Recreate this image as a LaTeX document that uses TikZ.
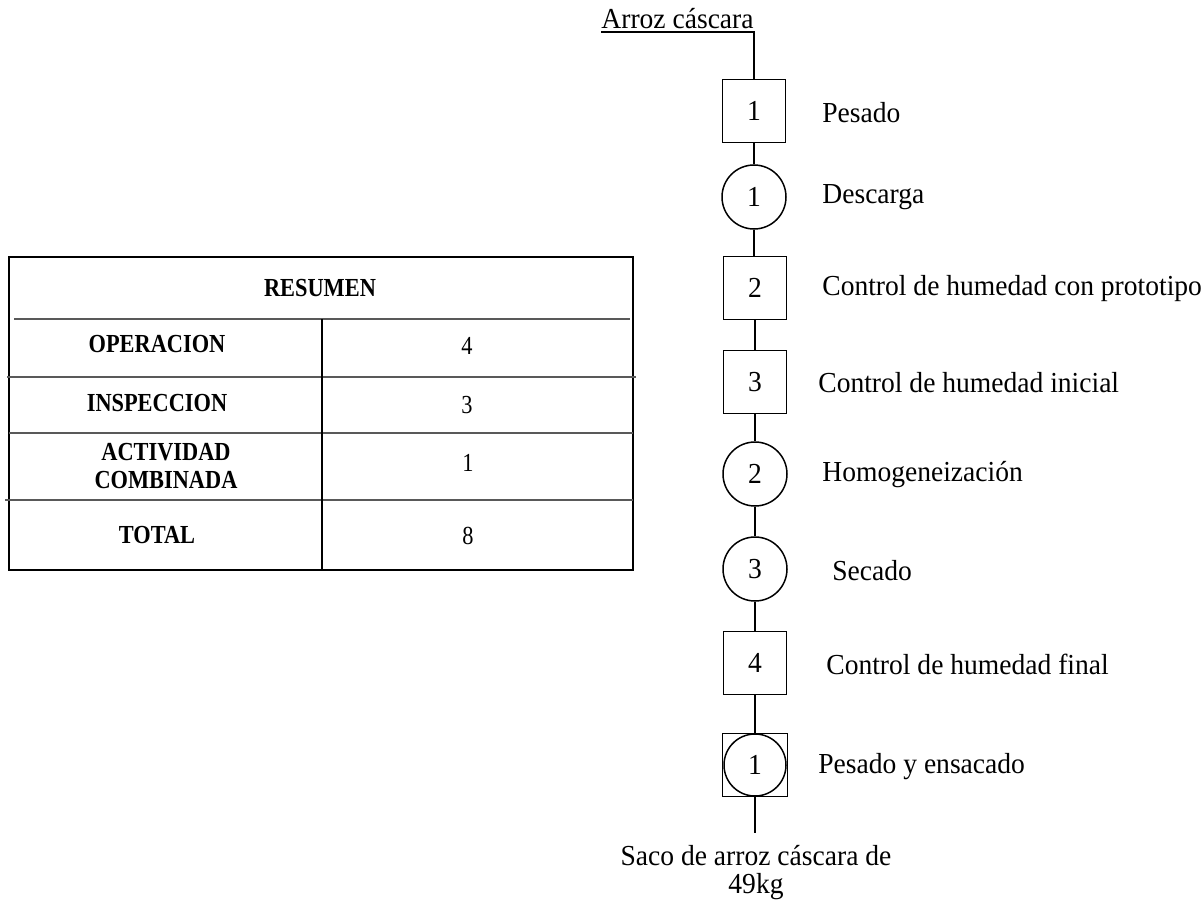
\documentclass[tikz,border=0pt]{standalone}
\usepackage{fontspec}
\setmainfont{Liberation Serif}
\newfontfamily\flowfont[FakeStretch=0.95]{Liberation Serif}
\newfontfamily\tabfont[FakeStretch=0.86]{Liberation Serif}
\begin{document}
\begin{tikzpicture}[x=0.5pt,y=-0.5pt,
  every node/.style={inner sep=0pt},
  lbl/.style={font=\flowfont\fontsize{14.5}{14}\selectfont, anchor=west},
  num/.style={font=\flowfont\fontsize{14.5}{14}\selectfont},
  opbox/.style={draw, line width=0.75pt, minimum width=31.5pt, minimum height=31.5pt, num},
  opcirc/.style={draw, circle, line width=0.75pt, minimum size=32pt, num},
  combbox/.style={draw, line width=0.75pt, minimum width=32.5pt, minimum height=31.5pt},
  flow/.style={line width=0.75pt},
  tabtxt/.style={font=\tabfont\fontsize{13}{14}\selectfont\bfseries, align=center},
  tabnum/.style={font=\tabfont\fontsize{13}{14}\selectfont},
  sep/.style={line width=1pt, black!65}]
\useasboundingbox (0,0) rectangle (1204,904);

% ---- flow ----
\node[font=\flowfont\fontsize{14.5}{14}\selectfont, inner xsep=0pt, inner ysep=1.5pt, anchor=south east] (start) at (754,32) {Arroz cáscara};
\node[opbox] (b1) at (754,111) {1};
\node[opcirc] (c1) at (754,197) {1};
\node[opbox] (b2) at (755,288) {2};
\node[opbox] (b3) at (755,382) {3};
\node[opcirc] (c2) at (755,474) {2};
\node[opcirc] (c3) at (755,569) {3};
\node[opbox] (b4) at (755,663) {4};
\node[combbox] (cb) at (755,765) {};
\node[opcirc, minimum size=31pt] (cc) at (cb.center) {1};
\coordinate (e) at (755,833);
\node[font=\flowfont\fontsize{14.5}{14}\selectfont, align=center, anchor=north] (endt) at (756,845) {Saco de arroz cáscara de\\49kg};

\draw[flow] (start.south west) -- (start.south east) -- (b1.north);
\draw[flow] (b1.south) -- (c1.north);
\draw[flow] (c1.south) -- (b2.north -| c1.south);
\draw[flow] (b2.south) -- (b3.north);
\draw[flow] (b3.south) -- (c2.north);
\draw[flow] (c2.south) -- (c3.north);
\draw[flow] (c3.south) -- (b4.north);
\draw[flow] (b4.south) -- (cb.north);
\draw[flow] (cb.south) -- (e);

\node[lbl] (l1) at (822,113) {Pesado};
\node[lbl] (l2) at (822,197) {Descarga};
\node[lbl] (l3) at (822,289) {Control de humedad con prototipo};
\node[lbl] (l4) at (818,383) {Control de humedad inicial};
\node[lbl] (l5) at (822,475) {Homogeneización};
\node[lbl] (l6) at (832,571) {Secado};
\node[lbl] (l7) at (826,664) {Control de humedad final};
\node[lbl] (l8) at (818,767) {Pesado y ensacado};

% ---- table ----
\draw[line width=0.75pt] (9,257) rectangle (633,570);
\draw[sep] (14,319) -- (630,319);
\draw[sep] (7,377) -- (636,377);
\draw[sep] (9,433) -- (633,433);
\draw[sep] (5,500) -- (633,500);
\draw[line width=0.75pt] (322,319) -- (322,570);

\node[tabtxt] (t0) at (320,288) {RESUMEN};
\node[tabtxt] (t1) at (157,344) {OPERACION};
\node[tabnum] (n1) at (467,346) {4};
\node[tabtxt] (t2) at (157,403) {INSPECCION};
\node[tabnum] (n2) at (467,405) {3};
\node[tabtxt] (t3) at (166,466) {ACTIVIDAD\\COMBINADA};
\node[tabnum] (n3) at (468,463) {1};
\node[tabtxt] (t4) at (157,535) {TOTAL};
\node[tabnum] (n4) at (468,536) {8};
\end{tikzpicture}
\end{document}
